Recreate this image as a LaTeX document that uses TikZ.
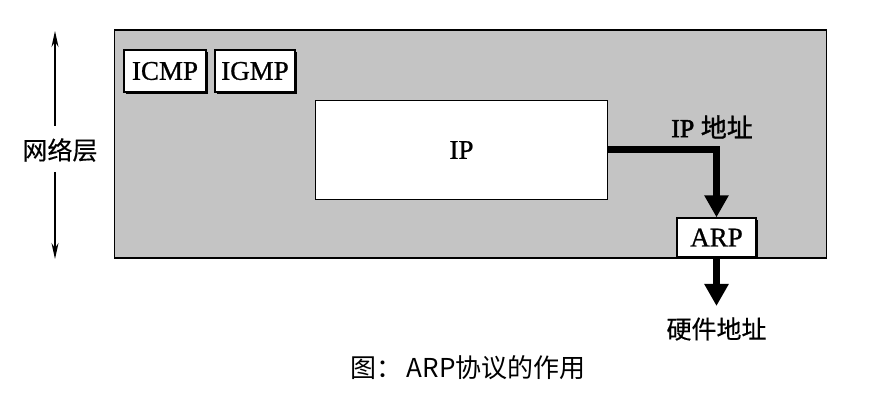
\documentclass[tikz,border=0pt]{standalone}
\usepackage{fontspec}
\setmainfont[FakeBold=0.8]{Liberation Serif}
\newfontfamily\serifheavy[FakeBold=2]{Liberation Serif}
\newfontfamily\cjk[FakeBold=0.3]{Noto Sans CJK SC}
\newfontfamily\cjkheavy[FakeBold=1.2]{Noto Sans CJK SC}
\newfontfamily\cjkplain{Noto Sans CJK SC}
\usetikzlibrary{arrows.meta}
\definecolor{layergray}{RGB}{196,196,196}
\tikzset{
  protobox/.style={draw=black, line width=1.3pt, fill=white, inner sep=0pt, font=\fontsize{27}{29}\selectfont},
  shadowed/.style={preaction={fill=black, transform canvas={shift={(2pt,-2pt)}}}},
  flowarrow/.style={line width=7pt, -{Triangle[width=23pt,length=22pt]}},
  spanarrow/.style={line width=1.3pt, -{Stealth[width=7pt,length=16pt]}},
  cjklabel/.style={font=\cjk\fontsize{25}{27}\selectfont, inner sep=0pt},
}
\begin{document}
\begin{tikzpicture}[x=1pt,y=-1pt]
\useasboundingbox[fill=white] (0,0) rectangle (879,414);
% network layer box
\node[draw=black, line width=1.3pt, fill=layergray, minimum width=712pt, minimum height=228pt, inner sep=0pt] (layer) at (470.5,144) {};
% protocol boxes
\node[protobox, shadowed, minimum width=82pt, minimum height=42pt] (icmp) at (165,71) {ICMP};
\node[protobox, shadowed, minimum width=80pt, minimum height=42pt] (igmp) at (255,71) {IGMP};
\node[protobox, minimum width=292pt, minimum height=99pt] (ip) at (461.5,150) {IP};
\node[protobox, shadowed, minimum width=79pt, minimum height=39pt] (arp) at (716.5,237.5) {ARP};
% IP address arrow
\draw[flowarrow] (ip.east) -| (arp.north);
\node[inner sep=0pt, font=\serifheavy\fontsize{26}{28}\selectfont] (ipaddr) at (712,127) {IP {\cjkheavy 地址}};
% hardware address arrow
\coordinate (hwtip) at (716.5,306);
\draw[flowarrow] (arp.south) -- (hwtip);
\node[cjklabel] (hwaddr) at (716.5,329) {硬件地址};
% left span arrow
\node[cjklabel] (net) at (60,150) {网络层};
\coordinate (nettop) at (55,31);
\coordinate (netbot) at (55,259);
\coordinate (netgaptop) at (55,126);
\coordinate (netgapbot) at (55,172);
\draw[spanarrow] (netgaptop) -- (nettop);
\draw[spanarrow] (netgapbot) -- (netbot);
% caption
\node[font=\cjkplain\fontsize{26}{28}\selectfont, inner sep=0pt] (caption) at (468,368) {图：\,ARP协议的作用};
\end{tikzpicture}
\end{document}
